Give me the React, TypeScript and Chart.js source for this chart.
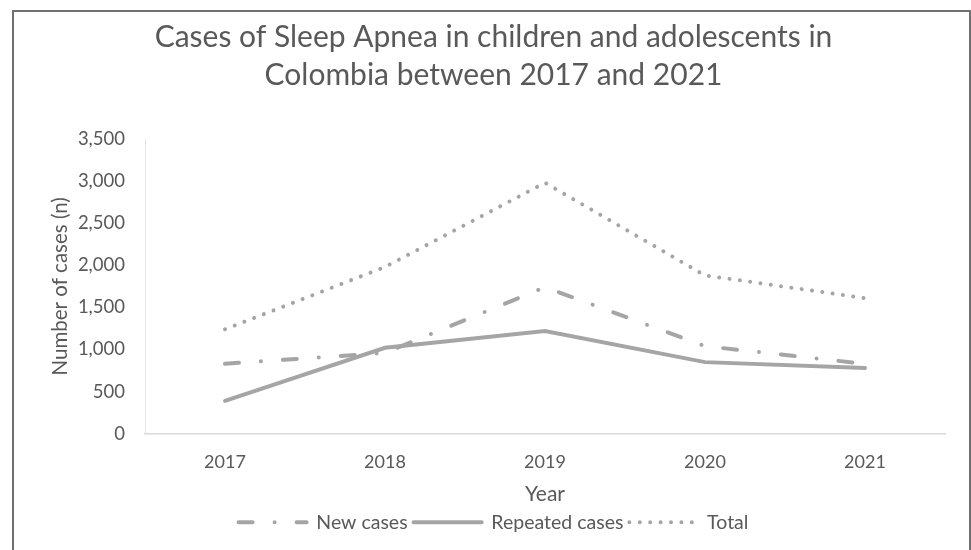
import React, { useEffect, useRef } from "react";
import { Chart, registerables } from "chart.js";

Chart.register(...registerables);

const years = ["2017", "2018", "2019", "2020", "2021"];
const newCases = [830, 960, 1740, 1040, 830];
const repeatedCases = [390, 1020, 1220, 850, 780];
const totalCases = [1240, 1980, 2980, 1880, 1610];
const yTicks = [0, 500, 1000, 1500, 2000, 2500, 3000, 3500];

const titleLines = [
  "Cases of Sleep Apnea in children and adolescents in",
  "Colombia between 2017 and 2021",
];

const FONT = "Lato, 'Open Sans', sans-serif";
const TEXT = "#595959";
const LINE = "#a5a5a5";

const framePlugin = {
  id: "frame",
  beforeDraw(chart: any) {
    const ctx = chart.ctx;
    ctx.save();
    ctx.fillStyle = "#ffffff";
    ctx.fillRect(0, 0, chart.width, chart.height);
    ctx.strokeStyle = "#707070";
    ctx.lineWidth = 2;
    ctx.strokeRect(13, 11, chart.width - 14, chart.height + 20);
    ctx.restore();
  },
};

export default function App() {
  const ref = useRef<HTMLCanvasElement | null>(null);

  useEffect(() => {
    if (!ref.current) return;
    const chart = new Chart(ref.current, {
      type: "line",
      data: {
        labels: years,
        datasets: [
          {
            label: "New cases",
            data: newCases,
            borderColor: LINE,
            backgroundColor: LINE,
            borderWidth: 4,
            borderDash: [14, 22, 0.01, 22],
            borderCapStyle: "round",
            pointRadius: 0,
            tension: 0,
          },
          {
            label: "Repeated cases",
            data: repeatedCases,
            borderColor: LINE,
            backgroundColor: LINE,
            borderWidth: 4,
            borderCapStyle: "round",
            pointRadius: 0,
            tension: 0,
          },
          {
            label: "Total",
            data: totalCases,
            borderColor: LINE,
            backgroundColor: LINE,
            borderWidth: 4,
            borderDash: [0.01, 10.4],
            borderCapStyle: "round",
            pointRadius: 0,
            tension: 0,
          },
        ],
      },
      options: {
        animation: false,
        responsive: false,
        devicePixelRatio: 1,
        layout: { padding: { left: 42, right: 26, top: 0, bottom: 8 } },
        plugins: {
          title: {
            display: true,
            text: titleLines,
            color: TEXT,
            font: { family: FONT, size: 30, weight: "normal", lineHeight: 38 / 30 },
            padding: { top: 18, bottom: 45 },
          },
          legend: {
            position: "bottom",
            labels: {
              color: TEXT,
              font: { family: FONT, size: 19.5 },
              usePointStyle: true,
              pointStyle: "line",
              pointStyleWidth: 68,
              padding: 6,
              generateLabels(c: any) {
                const base = Chart.defaults.plugins.legend.labels.generateLabels(c);
                return base.map((it: any) => {
                  const ds: any = c.data.datasets[it.datasetIndex];
                  return {
                    ...it,
                    lineDash: ds.borderDash || [],
                    lineCap: ds.borderCapStyle,
                    lineWidth: ds.borderWidth,
                    strokeStyle: ds.borderColor,
                    fillStyle: ds.borderColor,
                  };
                });
              },
            },
          },
          tooltip: { enabled: false },
        },
        scales: {
          x: {
            offset: true,
            grid: { display: false, drawTicks: true, tickLength: 16, tickColor: "rgba(0,0,0,0)" },
            border: { display: true, color: "#d9d9d9", width: 1.5 },
            ticks: {
              color: TEXT,
              font: { family: FONT, size: 18 },
              padding: 2,
            },
            title: {
              display: true,
              text: "Year",
              color: TEXT,
              font: { family: FONT, size: 21 },
              padding: { top: 6, bottom: 0 },
            },
          },
          y: {
            min: 0,
            max: 3500,
            afterBuildTicks(scale: any) {
              scale.ticks = yTicks.map((v) => ({ value: v }));
            },
            afterFit(scale: any) {
              scale.width = 145 - 42;
            },
            grid: { display: false, drawTicks: false },
            border: { display: true, color: "#e3e3e3", width: 1 },
            ticks: {
              color: TEXT,
              font: { family: FONT, size: 18.5 },
              padding: 20,
              callback: (v: any) => Number(v).toLocaleString("en-US"),
            },
            title: {
              display: true,
              text: "Number of cases (n)",
              color: TEXT,
              font: { family: FONT, size: 20.5 },
              padding: { top: 6, bottom: 0 },
            },
          },
        },
      },
      plugins: [framePlugin],
    } as any);
    return () => chart.destroy();
  }, []);

  return (
    <div style={{ position: "absolute", left: 0, top: 0, width: 971, height: 550, background: "#fff" }}>
      <canvas ref={ref} width={971} height={550} style={{ display: "block" }} />
    </div>
  );
}
